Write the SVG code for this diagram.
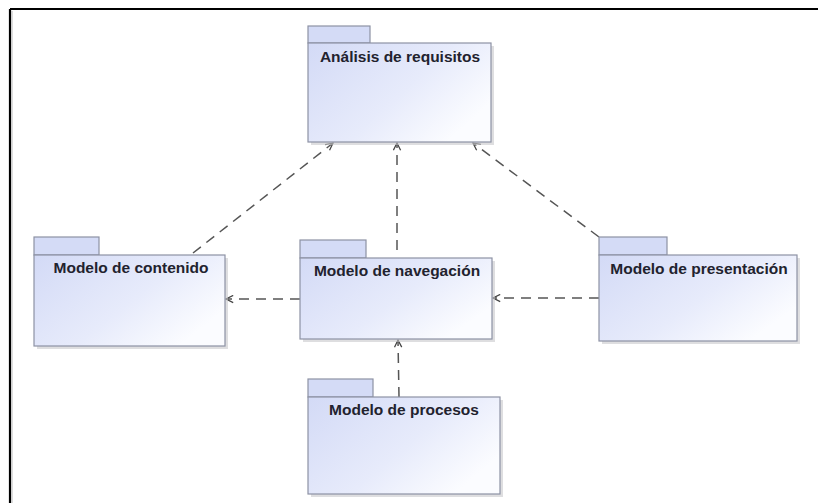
<svg xmlns="http://www.w3.org/2000/svg" width="818" height="503" viewBox="0 0 818 503">
  <defs>
    <linearGradient id="pkg" x1="0" y1="0" x2="1" y2="0.6">
      <stop offset="0" stop-color="#d3daf6"/>
      <stop offset="0.6" stop-color="#e7ebfb"/>
      <stop offset="1" stop-color="#fbfcff"/>
    </linearGradient>
    <marker id="open" viewBox="0 0 10 10" refX="9" refY="5" markerWidth="9" markerHeight="9" markerUnits="userSpaceOnUse" orient="auto">
      <path d="M1,1 L9,5 L1,9" fill="none" stroke="#444" stroke-width="1.4"/>
    </marker>
  </defs>
  <style>
    .tab { fill: #d4dbf6; stroke: #8d92a4; stroke-width: 1.2; }
    .body { fill: url(#pkg); stroke: #8d92a4; stroke-width: 1.2; }
    .shadow { fill: #c8c8cc; opacity: 0.6; }
    .label { font-family: "Liberation Sans", Arial, sans-serif; font-weight: bold; font-size: 15.5px; fill: #22222e; text-anchor: middle; }
    .dep { fill: none; stroke: #555; stroke-width: 1.5; stroke-dasharray: 10 7; marker-end: url(#open); }
  </style>
  <rect width="818" height="503" fill="#ffffff"/>
  <g id="frame">
    <line x1="10" y1="9" x2="818" y2="9" stroke="#000" stroke-width="2.2"/>
    <line x1="10" y1="9" x2="10" y2="503" stroke="#000" stroke-width="2.2"/>
    <line x1="12" y1="11" x2="12" y2="503" stroke="#bbb" stroke-width="1"/>
  </g>

  <g id="connectors">
    <line class="dep" x1="193" y1="253" x2="333" y2="143"/>
    <line class="dep" x1="397" y1="250" x2="397" y2="143"/>
    <line class="dep" x1="599" y1="237" x2="473" y2="143"/>
    <line class="dep" x1="300" y1="299" x2="226" y2="299"/>
    <line class="dep" x1="599" y1="298" x2="493" y2="298"/>
    <line class="dep" x1="399" y1="397" x2="398" y2="340"/>
  </g>

  <g id="analisis">
    <rect class="shadow" x="311" y="46" width="183" height="99"/>
    <rect class="tab" x="308" y="26" width="62" height="17"/>
    <rect class="body" x="308" y="43" width="183" height="99"/>
    <text class="label" x="400" y="62">Análisis de requisitos</text>
  </g>

  <g id="contenido">
    <rect class="shadow" x="37" y="258" width="191" height="91"/>
    <rect class="tab" x="34" y="237" width="65" height="18"/>
    <rect class="body" x="34" y="255" width="191" height="91"/>
    <text class="label" x="131" y="273">Modelo de contenido</text>
  </g>

  <g id="navegacion">
    <rect class="shadow" x="303" y="261" width="192" height="81"/>
    <rect class="tab" x="300" y="240" width="66" height="18"/>
    <rect class="body" x="300" y="258" width="192" height="81"/>
    <text class="label" x="397" y="276">Modelo de navegación</text>
  </g>

  <g id="presentacion">
    <rect class="shadow" x="602" y="258" width="198" height="86"/>
    <rect class="tab" x="599" y="237" width="68" height="18"/>
    <rect class="body" x="599" y="255" width="198" height="86"/>
    <text class="label" x="699" y="274">Modelo de presentación</text>
  </g>

  <g id="procesos">
    <rect class="shadow" x="311" y="400" width="192" height="97"/>
    <rect class="tab" x="308" y="379" width="65" height="18"/>
    <rect class="body" x="308" y="397" width="192" height="97"/>
    <text class="label" x="404" y="415">Modelo de procesos</text>
  </g>
</svg>
